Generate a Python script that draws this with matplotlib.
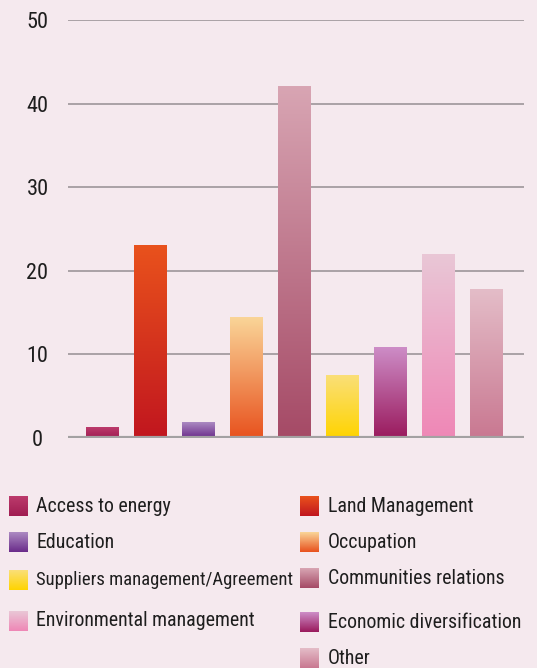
import matplotlib
matplotlib.use('Agg')
import matplotlib.pyplot as plt
import numpy as np
from matplotlib.colors import LinearSegmentedColormap

categories = ["Access to energy", "Land Management", "Education", "Occupation",
              "Communities relations", "Suppliers management/Agreement",
              "Economic diversification", "Environmental management", "Other"]
values = [1.2, 23.0, 1.8, 14.4, 42.1, 7.5, 10.8, 21.9, 17.8]
# gradient colours (top, bottom)
top_colors = ["#BC3B6C", "#E9521C", "#AC8AC2", "#FAD598", "#D8A5B3",
              "#FADF78", "#CD8DC7", "#E9C7D6", "#E4BDC8"]
bottom_colors = ["#A01D52", "#C1161F", "#6A2C8A", "#E8521E", "#A54A66",
                 "#FFD400", "#9A1A5D", "#EF87B6", "#C97891"]
yticks = [0, 10, 20, 30, 40, 50]

# legend order (left column, right column)
legend_left = ["Access to energy", "Education", "Suppliers management/Agreement",
               "Environmental management"]
legend_right = ["Land Management", "Occupation", "Communities relations",
                "Economic diversification", "Other"]

bg = "#F5E9EE"
font = ['Roboto Condensed', 'Roboto', 'DejaVu Sans']
plt.rcParams['font.family'] = font

W, H = 537, 668
fig = plt.figure(figsize=(W / 100, H / 100), dpi=100, facecolor=bg)
ax = fig.add_axes([68 / W, (H - 438) / H, 456 / W, 418 / H])
ax.set_facecolor(bg)

grad = np.linspace(1, 0, 256).reshape(-1, 1)
bw = 0.667
for i, (v, ct, cb) in enumerate(zip(values, top_colors, bottom_colors)):
    cmap = LinearSegmentedColormap.from_list("g%d" % i, [cb, ct])
    ax.imshow(grad, cmap=cmap, extent=[i - bw / 2, i + bw / 2, 0, v],
              aspect='auto', zorder=3, vmin=0, vmax=1)

ax.set_xlim(-0.708, 8.79)
ax.set_ylim(0, 50)
for t in yticks[1:]:
    ax.axhline(t, color="#A9A2A6", lw=1.4, zorder=1)
ax.axhline(0, color="#A3A1A2", lw=3, zorder=4)

for s in ax.spines.values():
    s.set_visible(False)
ax.set_xticks([])
ax.set_yticks(yticks)
ax.set_yticklabels([str(t) for t in yticks], fontsize=16, color="#1E1E1E")
ax.tick_params(axis='y', length=0, pad=22)
for lbl in ax.get_yticklabels():
    lbl.set_horizontalalignment('center')

# legend drawn in pixel coordinates
lax = fig.add_axes([0, 0, 1, 1])
lax.set_xlim(0, W)
lax.set_ylim(H, 0)
lax.axis('off')
color_map = {c: (t, b) for c, t, b in zip(categories, top_colors, bottom_colors)}
left_rows = [506, 542, 580, 621]
right_rows = [506, 542, 578, 622, 658]
sq_grad = np.linspace(0, 1, 64).reshape(-1, 1)


def legend_item(name, x, y, tx, size=14.3):
    t, b = color_map[name]
    cmap = LinearSegmentedColormap.from_list(name, [t, b])
    lax.imshow(sq_grad, cmap=cmap, extent=[x, x + 19, y + 10, y - 10],
               aspect='auto', vmin=0, vmax=1)
    lax.text(tx, y, name, fontsize=size, color="#1E1E1E", va='center', ha='left')


for name, y in zip(legend_left, left_rows):
    size = 13.4 if name.startswith("Suppliers") else 14.3
    legend_item(name, 9, y, 36, size)
for name, y in zip(legend_right, right_rows):
    legend_item(name, 300, y, 328)
lax.set_xlim(0, W)
lax.set_ylim(H, 0)

fig.savefig("out.png", dpi=100, facecolor=bg)
